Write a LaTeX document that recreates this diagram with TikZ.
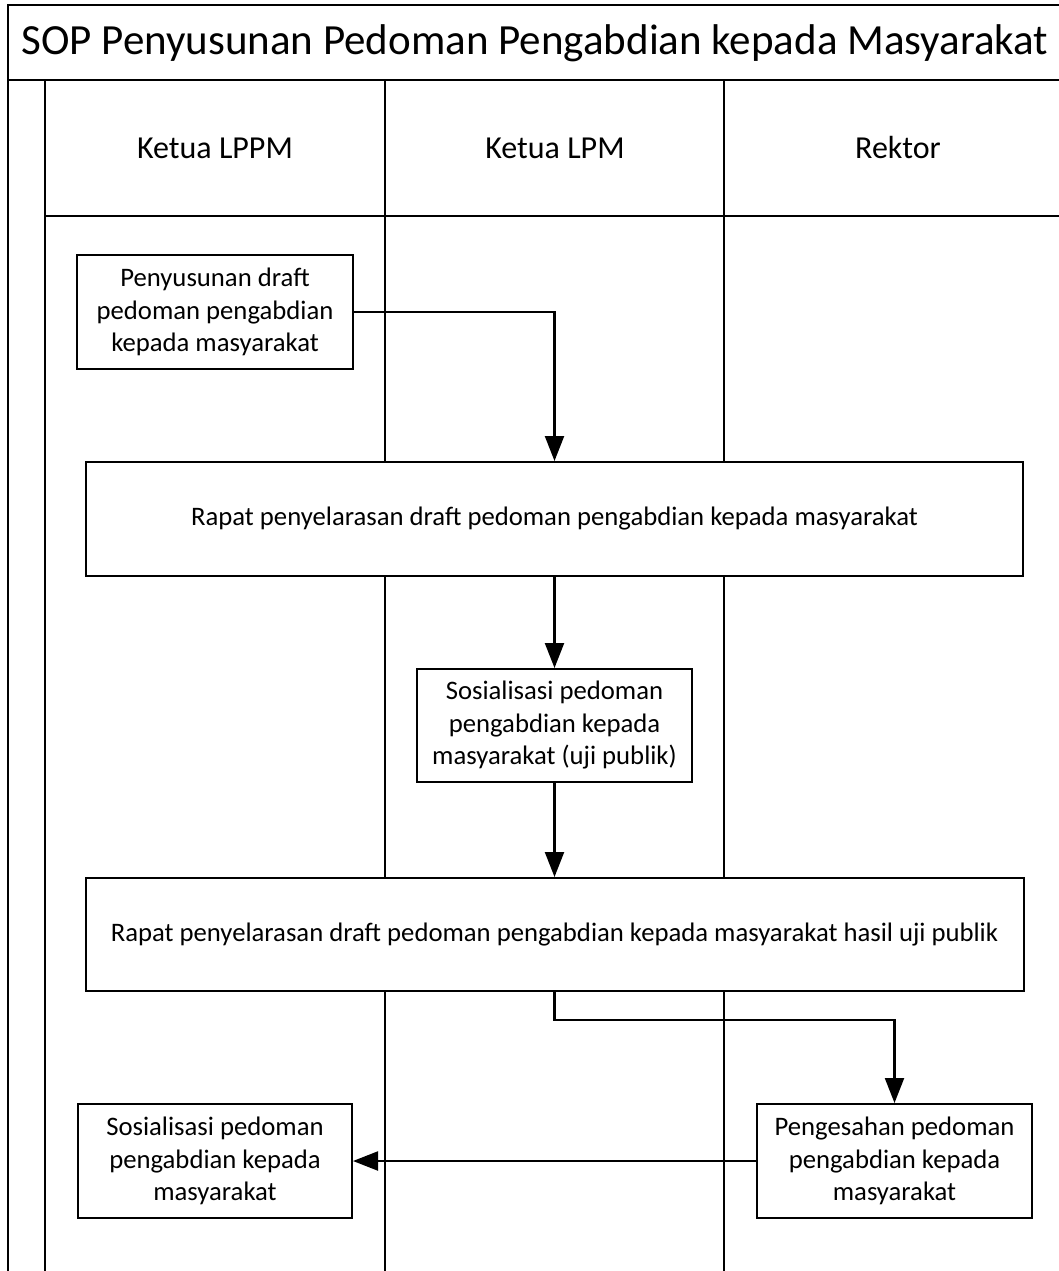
\documentclass[tikz,border=0pt]{standalone}
\usepackage{fontspec}
\setmainfont{Carlito}
\usetikzlibrary{arrows.meta}
\tikzset{
  lane/.style={line width=2.2pt},
  proc/.style={draw, line width=2pt, fill=white, align=center, inner sep=0pt,
    font=\fontsize{26.7}{32.5}\selectfont},
  flow/.style={line width=2.2pt, -{Triangle[length=25pt,width=19pt]}}
}
\begin{document}
\begin{tikzpicture}[x=1pt,y=-1pt]
      \useasboundingbox (0,0) rectangle (1059,1271);
      \draw[lane] (1059,5) -- (8,5) -- (8,1271);
      \draw[lane] (8,80) -- (1059,80);
      \draw[lane] (45,80) -- (45,1271);
      \draw[lane] (45,216) -- (1059,216);
      \draw[lane] (385,80) -- (385,1271);
      \draw[lane] (724,80) -- (724,1271);
      \node[font=\fontsize{43}{50}\selectfont] (title) at (535,43)
        {SOP Penyusunan Pedoman Pengabdian kepada Masyarakat};
      \begin{scope}[font=\fontsize{32}{38}\selectfont]
        \node (lppm) at (215,148) {Ketua LPPM};
        \node (lpm) at (555,148) {Ketua LPM};
        \node (rektor) at (898,148) {Rektor};
      \end{scope}
      \node[proc, minimum width=276pt, minimum height=114pt] (susun) at (215,312)
        {Penyusunan draft\\pedoman pengabdian\\kepada masyarakat};
      \node[proc, minimum width=937pt, minimum height=114pt] (rapat1) at (554.5,519)
        {Rapat penyelarasan draft pedoman pengabdian kepada masyarakat};
      \node[proc, minimum width=275pt, minimum height=113pt] (uji) at (554.5,725.5)
        {Sosialisasi pedoman\\pengabdian kepada\\masyarakat (uji publik)};
      \node[proc, minimum width=938pt, minimum height=113pt] (rapat2) at (554.5,934.5)
        {Rapat penyelarasan draft pedoman pengabdian kepada masyarakat hasil uji publik};
      \node[proc, minimum width=275pt, minimum height=114pt] (sah) at (894.5,1161)
        {Pengesahan pedoman\\pengabdian kepada\\masyarakat};
      \node[proc, minimum width=274pt, minimum height=114pt] (sosial) at (215,1161)
        {Sosialisasi pedoman\\pengabdian kepada\\masyarakat};
      \coordinate (turn) at (554.5,1020);
      \begin{scope}[flow]
        \draw (susun.east) -| (rapat1.north);
        \draw (rapat1) to (uji);
        \draw (uji) to (rapat2);
        \draw (rapat2.south) -- (turn) -| (sah.north);
        \draw (sah) to (sosial);
      \end{scope}
    \end{tikzpicture}
\end{document}
